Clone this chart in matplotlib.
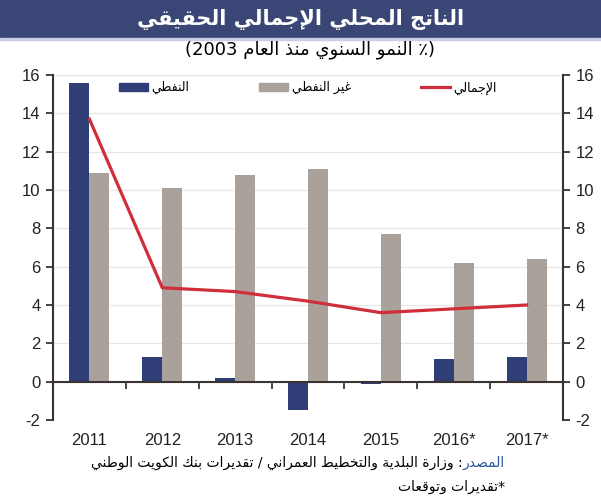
import re

import matplotlib
matplotlib.use("Agg")
from matplotlib import pyplot as plt
from matplotlib.patches import Rectangle
from matplotlib.lines import Line2D

years = ["2011", "2012", "2013", "2014", "2015", "2016*", "2017*"]
oil = [15.6, 1.3, 0.2, -1.5, -0.1, 1.2, 1.3]
non_oil = [10.9, 10.1, 10.8, 11.1, 7.7, 6.2, 6.4]
total = [13.7, 4.9, 4.7, 4.2, 3.6, 3.8, 4.0]
y_ticks = [-2, 0, 2, 4, 6, 8, 10, 12, 14, 16]

title = "الناتج المحلي الإجمالي الحقيقي"
subtitle = "(٪ النمو السنوي منذ العام 2003)"
label_oil = "النفطي"
label_non_oil = "غير النفطي"
label_total = "الإجمالي"
source_head = "المصدر"
source_body = ": وزارة البلدية والتخطيط العمراني / تقديرات بنك الكويت الوطني"
footnote = "*تقديرات وتوقعات"

# simple arabic shaping (presentation forms) since matplotlib does not shape
DUAL = {'ب': 0xFE8F, 'ت': 0xFE95, 'ث': 0xFE99, 'ج': 0xFE9D, 'ح': 0xFEA1,
        'خ': 0xFEA5, 'س': 0xFEB1, 'ش': 0xFEB5, 'ص': 0xFEB9, 'ض': 0xFEBD,
        'ط': 0xFEC1, 'ظ': 0xFEC5, 'ع': 0xFEC9, 'غ': 0xFECD, 'ف': 0xFED1,
        'ق': 0xFED5, 'ك': 0xFED9, 'ل': 0xFEDD, 'م': 0xFEE1, 'ن': 0xFEE5,
        'ه': 0xFEE9, 'ي': 0xFEF1}
RIGHT = {'ا': 0xFE8D, 'أ': 0xFE83, 'إ': 0xFE87, 'آ': 0xFE81, 'ة': 0xFE93,
         'د': 0xFEA9, 'ذ': 0xFEAB, 'ر': 0xFEAD, 'ز': 0xFEAF, 'و': 0xFEED,
         'ى': 0xFEEF}
LAM_ALEF = {'ا': 0xFEFB, 'أ': 0xFEF7, 'إ': 0xFEF9, 'آ': 0xFEF5}
MIRROR = {'(': ')', ')': '('}


def shape(text):
    units = []
    i = 0
    while i < len(text):
        c = text[i]
        if c == 'ل' and i + 1 < len(text) and text[i + 1] in LAM_ALEF:
            units.append(('LA', LAM_ALEF[text[i + 1]]))
            i += 2
        else:
            units.append((c, None))
            i += 1
    out = []
    for k, (c, code) in enumerate(units):
        p = k > 0 and units[k - 1][0] in DUAL
        n = k + 1 < len(units) and (units[k + 1][0] in DUAL or units[k + 1][0] in RIGHT
                                    or units[k + 1][0] == 'LA')
        if c == 'LA':
            out.append(chr(code + (1 if p else 0)))
        elif c in DUAL:
            b = DUAL[c]
            if p and n:
                out.append(chr(b + 3))
            elif p:
                out.append(chr(b + 1))
            elif n:
                out.append(chr(b + 2))
            else:
                out.append(chr(b))
        elif c in RIGHT:
            out.append(chr(RIGHT[c] + (1 if p else 0)))
        else:
            out.append(c)
    return ''.join(out)


def ar(text):
    s = shape(text)[::-1]
    s = re.sub(r'[0-9A-Za-z.]+', lambda m: m.group(0)[::-1], s)
    return ''.join(MIRROR.get(ch, ch) for ch in s)


navy = "#3a4675"
oil_color = "#2f3e77"
non_oil_color = "#aaa19b"
line_color = "#cf2e3a"
spine_color = "#3b3232"

plt.rcParams['font.family'] = ['Liberation Sans', 'DejaVu Sans']
plt.rcParams['axes.unicode_minus'] = False

fig = plt.figure(figsize=(6.01, 5.0), dpi=100)
fig.patches.append(Rectangle((0, 1 - 38 / 500), 1, 38 / 500, transform=fig.transFigure,
                             color=navy, zorder=0))
fig.patches.append(Rectangle((0, 1 - 40 / 500), 1, 2 / 500, transform=fig.transFigure,
                             color="#c9cde0", zorder=0))
fig.text(0.5, 1 - 19 / 500, ar(title), color="white", fontsize=15, fontweight="bold",
         ha="center", va="center", family="DejaVu Sans")
fig.text(0.515, 1 - 50 / 500, ar(subtitle), color="black", fontsize=13,
         ha="center", va="center", family="DejaVu Sans")

ax = fig.add_axes([53 / 601, 80 / 500, 510 / 601, 345 / 500])
x = list(range(len(years)))
w = 0.275
ax.bar([i - w / 2 for i in x], oil, width=w, color=oil_color, zorder=2)
ax.bar([i + w / 2 for i in x], non_oil, width=w, color=non_oil_color, zorder=2)
ax.plot(x, total, color=line_color, lw=2.3, zorder=3)

ax.set_xlim(-0.5, len(years) - 0.5)
ax.set_ylim(-2, 16)
ax.set_yticks(y_ticks)
ax.yaxis.grid(True, color="#e6e6e6", lw=0.9, zorder=0)
ax.set_axisbelow(True)

ax.spines["top"].set_visible(False)
ax.spines["right"].set_visible(False)
ax.spines["bottom"].set_position(("data", 0))
for s in ("left", "bottom"):
    ax.spines[s].set_color(spine_color)
    ax.spines[s].set_linewidth(1.5)

ax.set_xticks([i + 0.5 for i in x[:-1]])
ax.set_xticklabels([])
ax.set_xticks(x, minor=True)
ax.set_xticklabels(years, minor=True, fontsize=12, color="#222222")
ax.tick_params(axis="x", which="major", direction="out", length=5, width=1.3, color=spine_color)
ax.tick_params(axis="x", which="minor", length=0, pad=37)
ax.tick_params(axis="y", direction="out", length=5, width=1.3, color=spine_color,
               labelsize=12, labelcolor="#222222", pad=4)

ax2 = ax.twinx()
ax2.set_ylim(-2, 16)
ax2.set_yticks(y_ticks)
for s in ("top", "left", "bottom"):
    ax2.spines[s].set_visible(False)
ax2.spines["right"].set_color(spine_color)
ax2.spines["right"].set_linewidth(1.5)
ax2.tick_params(axis="y", direction="out", length=5, width=1.3, color=spine_color,
                labelsize=12, labelcolor="#222222", pad=4)

handles = [Rectangle((0, 0), 1, 1, color=oil_color),
           Rectangle((0, 0), 1, 1, color=non_oil_color),
           Line2D([], [], color=line_color, lw=2.3)]
labels = [ar(label_oil), ar(label_non_oil), ar(label_total)]
fig.legend(handles, labels, loc="center", bbox_to_anchor=(0.512, 1 - 88 / 500), ncol=3,
           frameon=False, handlelength=2.3, handleheight=0.6, handletextpad=0.3,
           columnspacing=5.6, prop={"family": "DejaVu Sans", "size": 9})

head = fig.text(505 / 601, 1 - 463 / 500, ar(source_head), color="#2f5597", fontsize=10,
                ha="right", va="center", family="DejaVu Sans")
ax.annotate(ar(source_body), xy=(0, 0.5), xycoords=head, ha="right", va="center",
            fontsize=10, color="black", family="DejaVu Sans", annotation_clip=False)
fig.text(505 / 601, 1 - 487 / 500, ar(footnote), color="black", fontsize=10,
         ha="right", va="center", family="DejaVu Sans")

fig.savefig("out.png", dpi=100)
